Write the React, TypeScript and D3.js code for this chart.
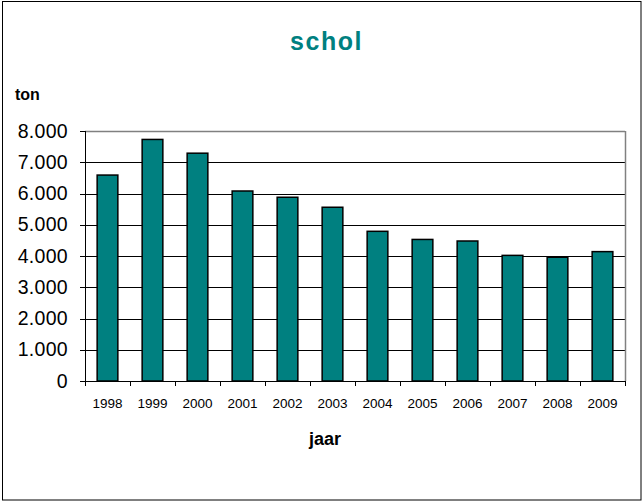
import React from "react";
import * as d3 from "d3";

const years = ["1998", "1999", "2000", "2001", "2002", "2003", "2004", "2005", "2006", "2007", "2008", "2009"];
const tons = [6590, 7730, 7290, 6080, 5880, 5560, 4790, 4530, 4480, 4020, 3960, 4140];
const yTicks = [0, 1000, 2000, 3000, 4000, 5000, 6000, 7000, 8000];

const W = 644;
const H = 502;
const left = 85;
const right = 625;
const top = 131;
const bottom = 381;
const teal = "#008080";
const font = "'Liberation Sans', Arial, sans-serif";

const fmt = (v: number) => (v === 0 ? "0" : d3.format(",")(v).replace(/,/g, "."));

export default function App() {
  const x = d3.scaleBand<string>().domain(years).range([left, right]).paddingInner(0.54).paddingOuter(0.27);
  const y = d3.scaleLinear().domain([0, 8000]).range([bottom, top]);
  const bounds = d3.range(years.length + 1).map((i) => left + i * ((right - left) / years.length));

  return (
    <svg width={W} height={H} style={{ position: "absolute", left: 0, top: 0 }} fontFamily={font}>
      <rect x={0} y={0} width={W} height={H} fill="#fff" />
      <rect x={2.5} y={1.5} width={638.5} height={498.5} fill="none" stroke="#000" strokeWidth={1} />
      <text x={326.5} y={50} textAnchor="middle" fill={teal} fontSize={25} fontWeight="bold" letterSpacing={1.5}>
        schol
      </text>
      <text x={15} y={100} fontSize={16} fontWeight="bold" fill="#000">
        ton
      </text>
      {yTicks.map((t) => (
        <g key={t}>
          {t > 0 && t < 8000 && (
            <line x1={left} x2={right} y1={Math.round(y(t)) + 0.5} y2={Math.round(y(t)) + 0.5} stroke="#000" strokeWidth={1} />
          )}
          <line x1={left - 5} x2={left} y1={Math.round(y(t)) + 0.5} y2={Math.round(y(t)) + 0.5} stroke="#000" />
          <text x={68} y={y(t) + 6.5} textAnchor="end" fontSize={19.5} fill="#000" letterSpacing={0.3}>
            {fmt(t)}
          </text>
        </g>
      ))}
      <line x1={left} x2={right} y1={Math.round(top) + 0.5} y2={Math.round(top) + 0.5} stroke="#808080" strokeWidth={1.5} />
      <line x1={right + 0.5} x2={right + 0.5} y1={top} y2={bottom} stroke="#808080" strokeWidth={1.5} />
      {tons.map((v, i) => (
        <rect
          key={years[i]}
          x={x(years[i])!}
          y={y(v)}
          width={x.bandwidth()}
          height={bottom - y(v)}
          fill={teal}
          stroke="#000"
          strokeWidth={1.5}
        />
      ))}
      <line x1={left + 0.5} x2={left + 0.5} y1={top} y2={bottom} stroke="#000" />
      <line x1={left} x2={right} y1={bottom + 0.5} y2={bottom + 0.5} stroke="#000" />
      {bounds.map((b, i) => (
        <line key={i} x1={Math.round(b) + 0.5} x2={Math.round(b) + 0.5} y1={bottom} y2={bottom + 5} stroke="#000" />
      ))}
      {years.map((yr) => (
        <text key={yr} x={x(yr)! + x.bandwidth() / 2} y={408} textAnchor="middle" fontSize={13.5} fill="#000">
          {yr}
        </text>
      ))}
      <text x={325} y={445} textAnchor="middle" fontSize={18} fontWeight="bold" fill="#000">
        jaar
      </text>
    </svg>
  );
}
